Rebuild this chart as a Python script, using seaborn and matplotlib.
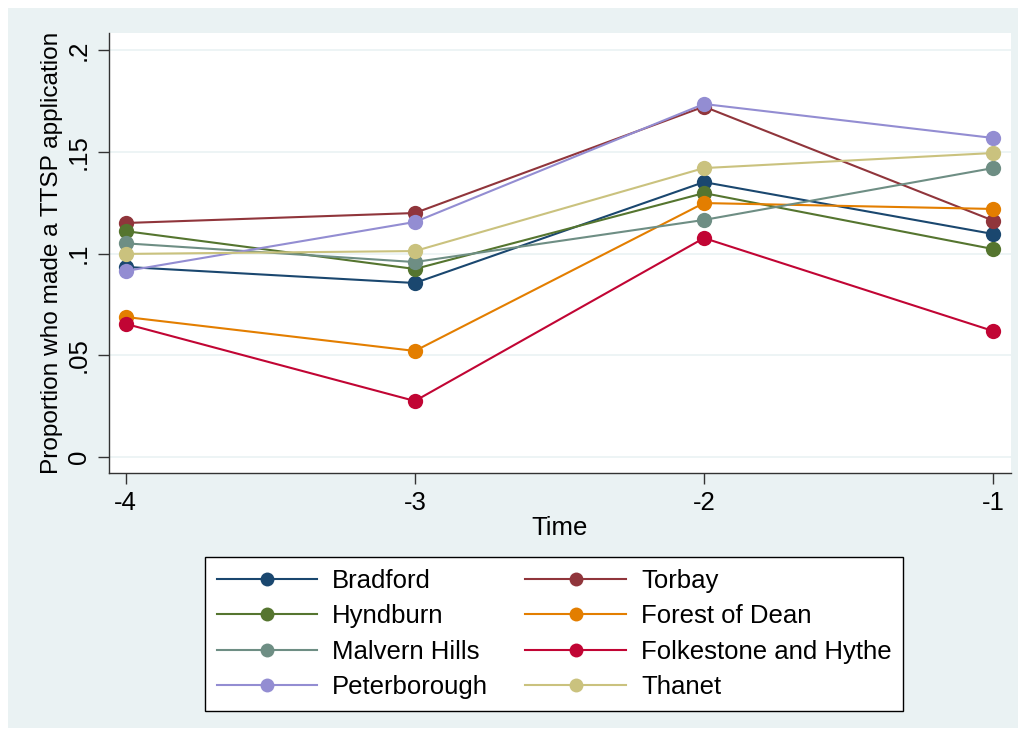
import numpy as np
import pandas as pd
import matplotlib
matplotlib.use("Agg")
import matplotlib.pyplot as plt
import seaborn as sns
from matplotlib.lines import Line2D
from matplotlib.patches import Rectangle

# Valeurs
time = [-4, -3, -2, -1]
bradford = [0.0934, 0.0855, 0.1351, 0.1096]
torbay = [0.1150, 0.1199, 0.1722, 0.1162]
hyndburn = [0.1110, 0.0924, 0.1297, 0.1022]
forest_of_dean = [0.0688, 0.0521, 0.1248, 0.1219]
malvern_hills = [0.1050, 0.0958, 0.1165, 0.1420]
folkestone = [0.0654, 0.0275, 0.1076, 0.0619]
peterborough = [0.0914, 0.1155, 0.1735, 0.1568]
thanet = [0.0998, 0.1012, 0.1420, 0.1494]

areas = ["Bradford", "Torbay", "Hyndburn", "Forest of Dean",
         "Malvern Hills", "Folkestone and Hythe", "Peterborough", "Thanet"]
series = [bradford, torbay, hyndburn, forest_of_dean,
          malvern_hills, folkestone, peterborough, thanet]
colors = ["#1a476f", "#90353b", "#55752f", "#e37e00",
          "#6e8e84", "#c10534", "#938dd2", "#cac27e"]

df = pd.DataFrame({
    "Time": np.tile(time, len(areas)),
    "Proportion": np.concatenate(series),
    "Area": np.repeat(areas, len(time)),
})

BG = "#eaf2f3"
FS = 18.5
plt.rcParams["font.family"] = ["Liberation Sans", "DejaVu Sans"]

fig = plt.figure(figsize=(10.26, 7.36), dpi=100)
fig.patch.set_facecolor("white")
fig.patches.append(Rectangle((8 / 1026, 8 / 736), 1 - 16 / 1026, 1 - 16 / 736,
                             transform=fig.transFigure, facecolor=BG,
                             edgecolor="none", zorder=-10))

ax = fig.add_axes([109 / 1026, 1 - 473 / 736, (1011 - 109) / 1026, (473 - 33) / 736])
ax.set_facecolor("white")

sns.lineplot(data=df, x="Time", y="Proportion", hue="Area", hue_order=areas,
             palette=dict(zip(areas, colors)), marker="o", markersize=11,
             markeredgewidth=0, linewidth=1.5, legend=False, ax=ax, zorder=3)

ax.set_xlim(-4.058, -0.938)
ax.set_ylim(-0.0079, 0.2084)
ax.set_xticks(time)
ax.set_xticklabels([str(t) for t in time])
ax.set_yticks([0, 0.05, 0.1, 0.15, 0.2])
ax.set_yticklabels(["0", ".05", ".1", ".15", ".2"], rotation=90, va="center")
ax.grid(axis="y", color=BG, linewidth=1.2, zorder=0)
ax.set_axisbelow(True)
for s in ["top", "right"]:
    ax.spines[s].set_visible(False)
for s in ["left", "bottom"]:
    ax.spines[s].set_color("#333333")
    ax.spines[s].set_linewidth(1.0)
ax.tick_params(axis="both", direction="out", length=8, width=1, color="#333333",
               labelsize=FS, pad=5)
ax.set_xlabel("Time", fontsize=FS, labelpad=1)
ax.set_ylabel("Proportion who made a TTSP application", fontsize=17.6, labelpad=3)

# legende en lignes: Bradford/Torbay, Hyndburn/Forest ...
order = [0, 2, 4, 6, 1, 3, 5, 7]
handles = [Line2D([], [], color=colors[i], marker="o", markersize=10,
                  markeredgewidth=0, linewidth=1.5) for i in order]
labels = [areas[i] for i in order]
leg = fig.legend(handles, labels, ncol=2, loc="upper left",
                 bbox_to_anchor=(205 / 1026, 1 - 557 / 736),
                 fontsize=FS, frameon=True, fancybox=False,
                 edgecolor="black", facecolor="white", framealpha=1,
                 handlelength=3.9, handletextpad=0.6, columnspacing=1.45,
                 labelspacing=0.45, borderpad=0.45, borderaxespad=0)
leg.get_frame().set_linewidth(1.0)

fig.savefig("out.png", dpi=100, facecolor=fig.get_facecolor())
